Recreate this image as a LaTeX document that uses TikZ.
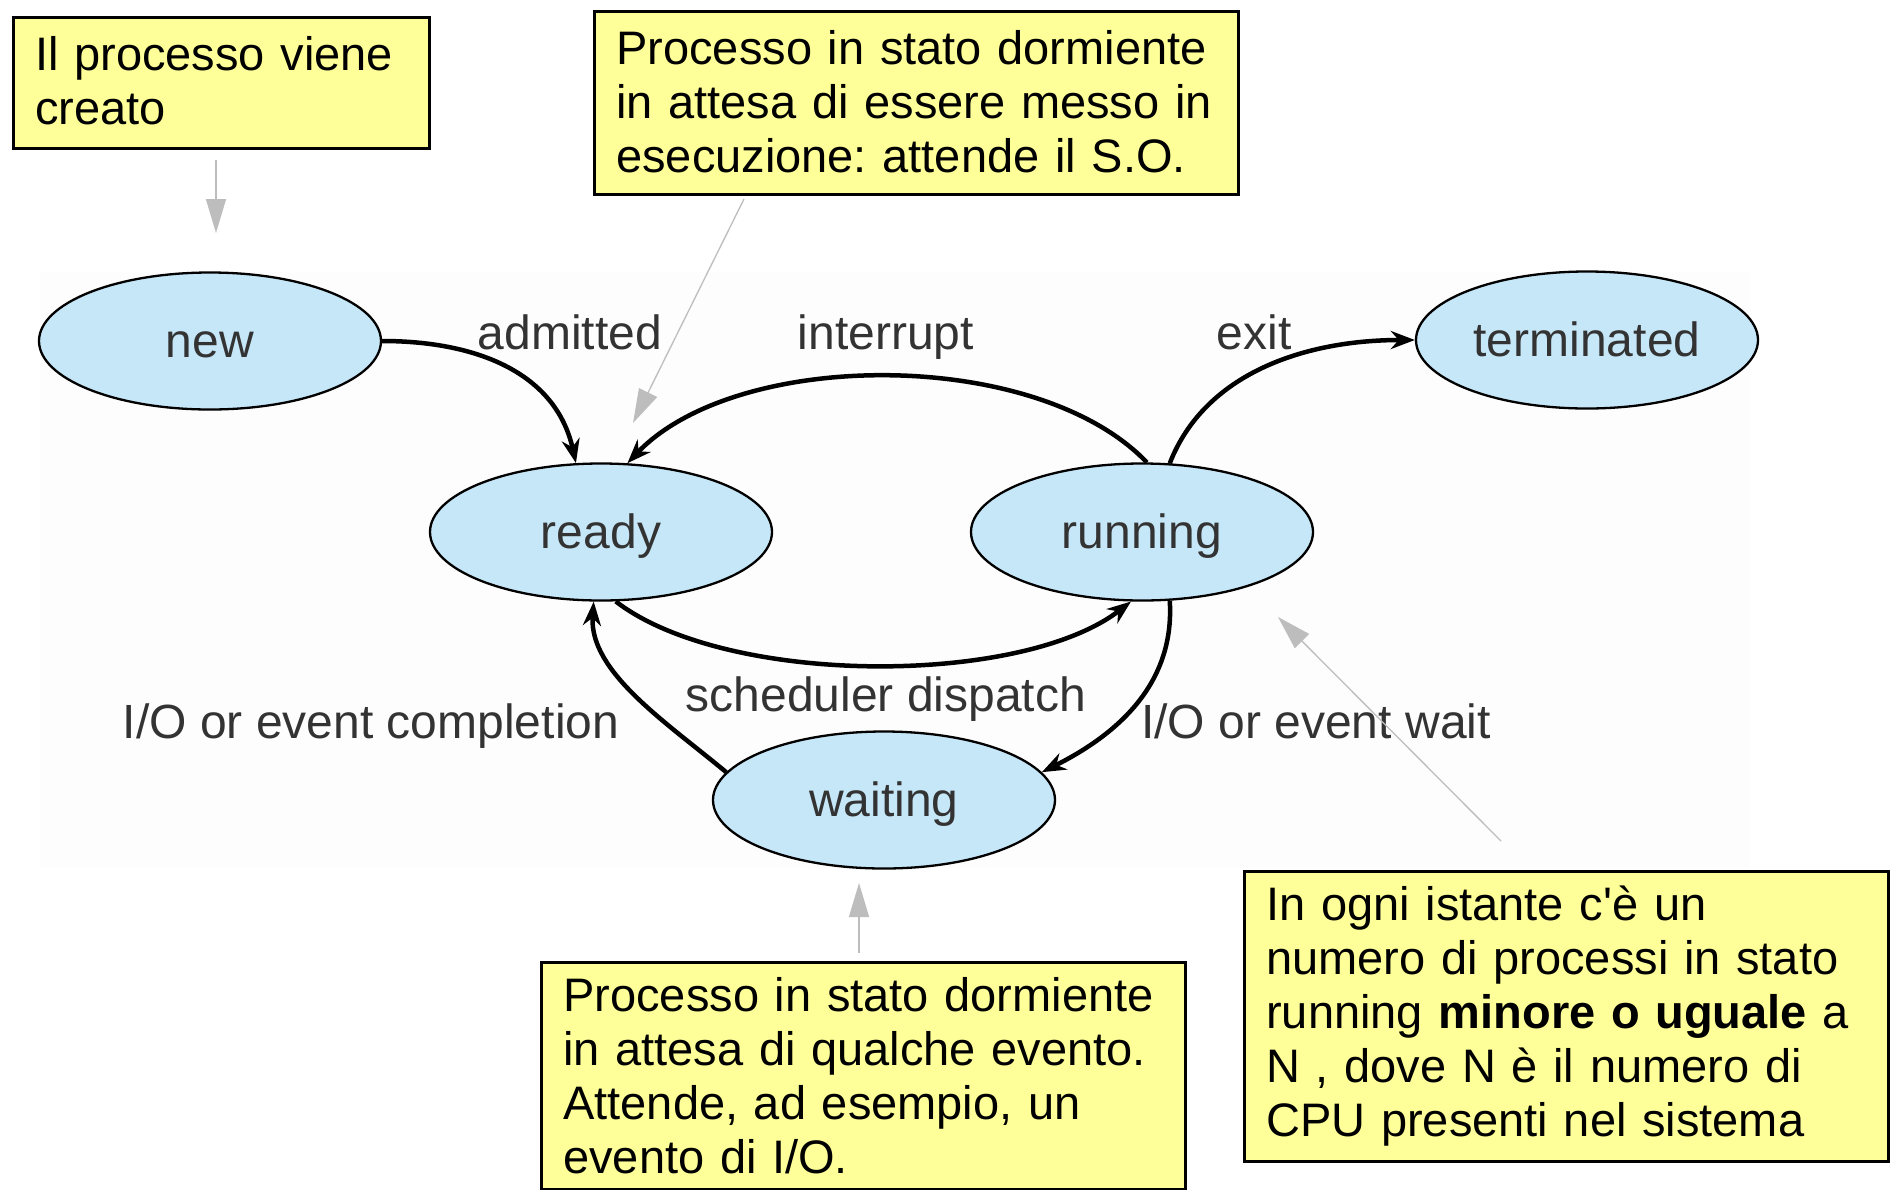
\documentclass[tikz,border=0pt]{standalone}
\usepackage{fontspec}
\newfontfamily\plainsans{Liberation Sans}
\usetikzlibrary{shapes.geometric,arrows.meta,calc}
\definecolor{stateblue}{HTML}{C6E7F8}
\definecolor{noteyellow}{HTML}{FFFF99}
\definecolor{labelgray}{HTML}{333333}
\definecolor{notegray}{HTML}{BDBDBD}
\definecolor{bgtint}{HTML}{FDFDFD}
\newcommand{\topstrut}{\rule{0pt}{38pt}}
\begin{document}
\frenchspacing
\begin{tikzpicture}[x=1pt,y=-1pt,
  state/.style={ellipse,draw=black,line width=2.3pt,fill=stateblue,
    minimum width=342pt,minimum height=137pt,inner sep=0pt,
    text height=34pt,text depth=2pt,
    text=labelgray,font=\plainsans\fontsize{48}{54}\selectfont},
  lbl/.style={text=labelgray,font=\plainsans\fontsize{48}{54}\selectfont,inner sep=0pt,anchor=base},
  note/.style={draw=black,line width=2.5pt,fill=noteyellow,anchor=north west,
    align=left,text width=600pt,inner xsep=22pt,inner ysep=15pt,
    font=\plainsans\fontsize{47}{54}\selectfont},
  trans/.style={line width=4.5pt,-{Stealth[length=24pt,width=18pt]}},
  pointer/.style={draw=notegray,line width=1.3pt,-{Triangle[length=34pt,width=20pt,fill=notegray]}}
]
\useasboundingbox (0,0) rectangle (1891,1195);
\fill[white] (0,0) rectangle (1891,1195);
\fill[bgtint] (40,272) rectangle (1750,868);

% states
\node[state] (new) at (210,341) {new};
\node[state] (ready) at (601,532) {ready};
\node[state] (running) at (1142,532) {running};
\node[state] (terminated) at (1587,340) {terminated};
\node[state] (waiting) at (884,800) {waiting};

% transition labels
\node[lbl] (ladm) at (570,349) {admitted};
\node[lbl] (lint) at (886,349) {interrupt};
\node[lbl] (lexit) at (1254,349) {exit};
\node[lbl] (lsched) at (886,711) {scheduler dispatch};
\node[lbl] (lcompl) at (371,738) {I/O or event completion};
\node[lbl] (lwait) at (1316,738) {I/O or event wait};

% transitions
\draw[trans] (new.east) .. controls +(95,0) and +(-20,-90) .. (ready.110);
\draw[trans] (running.86) .. controls +(-110,-115) and +(110,-115) .. (ready.69);
\draw[trans] (ready.282) .. controls +(110,85) and +(-110,85) .. (running.261);
\draw[trans] (running.68) .. controls +(35,-90) and +(-110,0) .. (terminated.west);
\draw[trans] (running.292) .. controls +(5,80) and +(80,-40) .. (waiting.10);
\draw[trans] (waiting.170) .. controls +(-60,-50) and +(-5,70) .. (ready.264);

% notes
\node[note,text width=372pt] (n1) at (12,16) {\topstrut Il processo viene\\creato\rule[-9pt]{0pt}{1pt}};
\node[note] (n2) at (593,10) {\topstrut Processo in stato dormiente\\in attesa di essere messo in\\esecuzione: attende il S.O.\rule[-7pt]{0pt}{1pt}};
\node[note] (n3) at (540,961) {Processo in stato dormiente\\in attesa di qualche evento.\\Attende, ad esempio, un\\evento di I/O.};
\node[note] (n4) at (1243,870) {In ogni istante c'è un\\numero di processi in stato\\running \textbf{minore o uguale} a\\N , dove N è il numero di\\CPU presenti nel sistema};

% pointer ends
\coordinate (p1s) at (216,160);
\coordinate (p1e) at (216,233);
\coordinate (p2s) at (744,199);
\coordinate (p2e) at (633,423);
\coordinate (p3s) at (859,953);
\coordinate (p3e) at (859,883);
\coordinate (p4s) at (1501,841);
\coordinate (p4e) at (1278,617);
\draw[pointer] (p1s) -- (p1e);
\draw[pointer] (p2s) -- (p2e);
\draw[pointer] (p3s) -- (p3e);
\draw[pointer] (p4s) -- (p4e);
\end{tikzpicture}
\end{document}
